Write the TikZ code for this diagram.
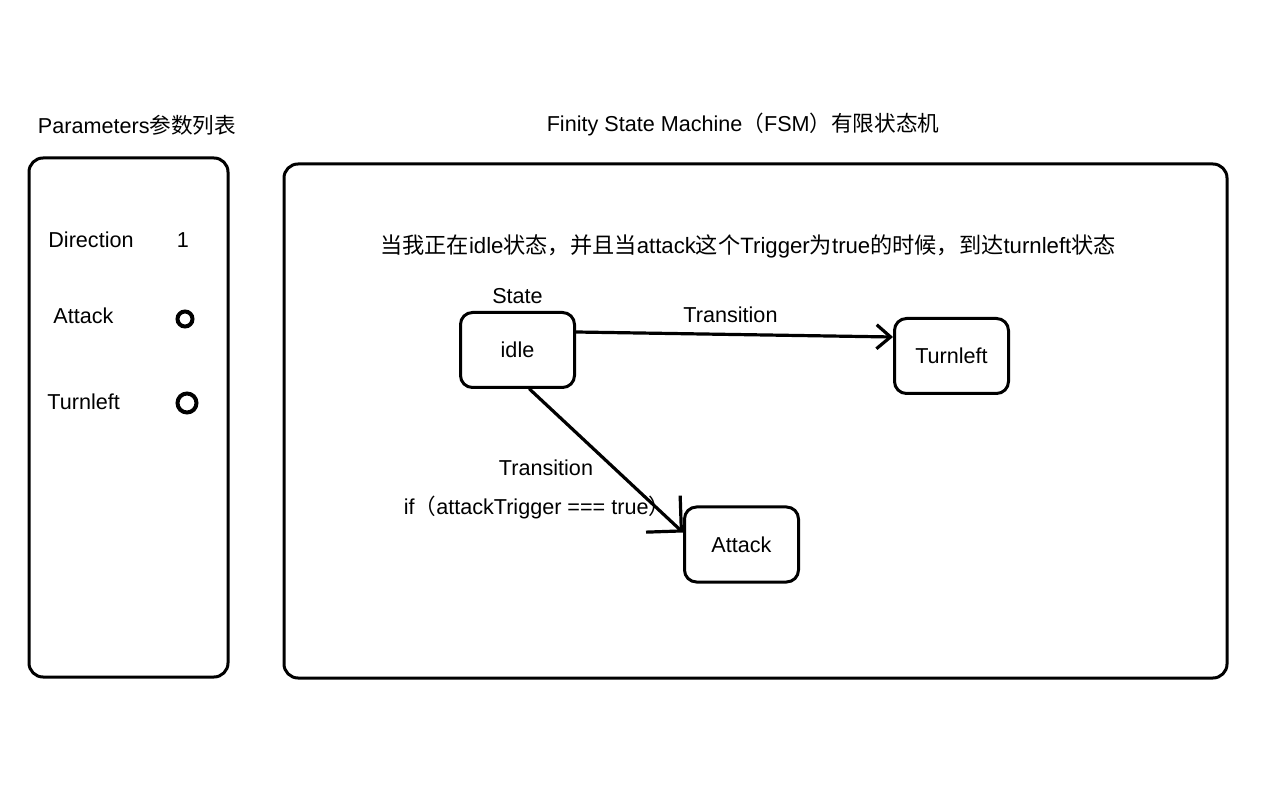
\documentclass[tikz,border=0pt]{standalone}
\usepackage{fontspec}
\setmainfont{Liberation Sans}
\newfontfamily\cjk{Noto Sans CJK SC}
\usetikzlibrary{positioning, arrows.meta}

\begin{document}
\begin{tikzpicture}[x=0.5pt, y=-0.5pt, font=\fontsize{10.8}{13}\selectfont,
        panel/.style={draw, line width=1.5pt, rounded corners=7pt},
        statebox/.style={draw, line width=1.5pt, rounded corners=6pt, minimum width=57pt, minimum height=37.5pt},
        flag/.style={circle, draw, line width=2pt, inner sep=0pt},
        trans/.style={line width=1.6pt, line cap=round}]
        \useasboundingbox (0,0) rectangle (1268,806);

        % the two panels
        \node[panel, minimum width=99.5pt, minimum height=259.5pt] (params) at (128.5,417.5) {};
        \node[panel, minimum width=471.5pt, minimum height=257pt] (fsm) at (755.5,421) {};
        \node (paramtitle) at (137,125) {Parameters{\cjk 参数列表}};
        \node (fsmtitle) at (743,125) {Finity State Machine{\cjk （}FSM{\cjk ）有限状态机}};

        % parameter list
        \foreach \nm/\x/\y in {Direction/48/240, Attack/53/316, Turnleft/47/402} {
            \node[anchor=west, inner sep=0pt] (p\nm) at (\x,\y) {\nm};
        }
        \node (vdirection) at (183,240) {1};
        \node[flag, minimum size=7.5pt] (vattack) at (185,319) {};
        \node[flag, minimum size=9.5pt] (vturnleft) at (187,403) {};

        \node[font=\fontsize{11.1}{13}\selectfont] (note) at (748,246) {{\cjk 当我正在}idle{\cjk 状态，并且当}attack{\cjk 这个}Trigger{\cjk 为}true{\cjk 的时候，到达}turnleft{\cjk 状态}};

        % states
        \node[statebox] (idle) at (517.5,350) {idle};
        \node[statebox] (turnleft) at (951.5,356) {Turnleft};
        \node[statebox] (attack) at (741.5,544.5) {Attack};
        \node[above=0pt of idle] (statelabel) {State};

        % transitions
        \draw[trans, -{Straight Barb[length=7pt, width=12pt]}] ([yshift=9pt]idle.east) -- node[above=2pt, xshift=-2pt] (t1) {Transition} ([yshift=9.5pt]turnleft.west);
        \draw[trans, -{Straight Barb[length=12.5pt, width=25pt]}] ([xshift=6pt]idle.south) -- ([yshift=6pt]attack.west);
        \node (cond) at (537,507) {if{\cjk （}attackTrigger === true{\cjk ）}};
        \node (t2) at (546,468) {Transition};
    \end{tikzpicture}
\end{document}
